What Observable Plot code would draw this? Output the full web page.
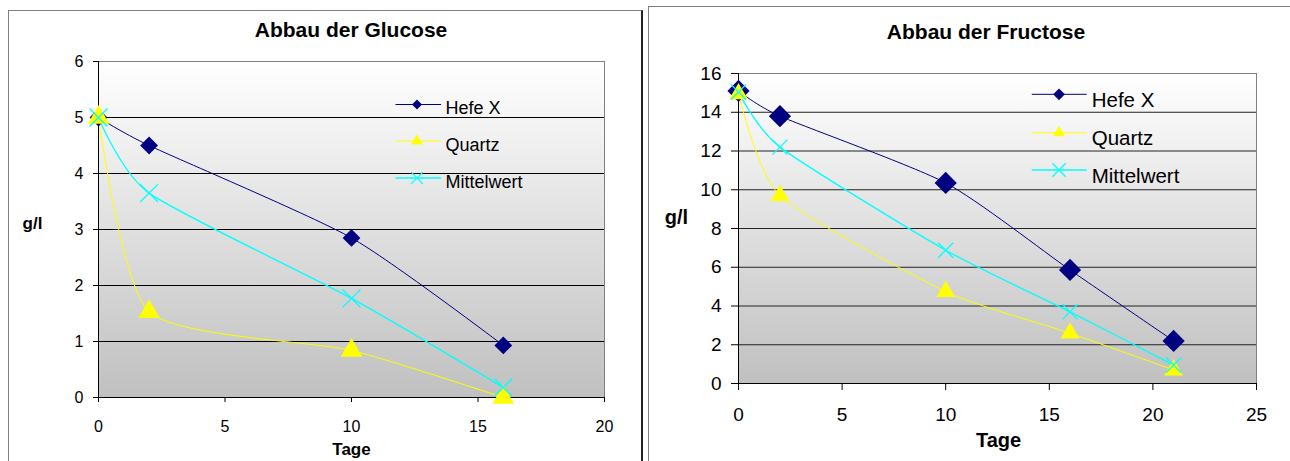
<!DOCTYPE html>
<html><head><meta charset="utf-8">
<script src="https://cdn.jsdelivr.net/npm/d3@7"></script>
<script src="https://cdn.jsdelivr.net/npm/@observablehq/plot@0.6"></script>
<style>
body{margin:0;width:1290px;height:461px;overflow:hidden;background:#fff;position:relative;font-family:"Liberation Sans",Arial,sans-serif;color:#000;}
.box{position:absolute;box-sizing:border-box;}
.t{position:absolute;transform:translate(-50%,-50%);font-weight:bold;white-space:nowrap;}
</style></head><body>
<div class="box" style="left:8px;top:10px;width:635px;height:470px;border-left:1px solid #808080;border-top:1px solid #808080;border-right:2px solid #222;"></div>
<div class="box" style="left:648px;top:6px;width:700px;height:470px;border:1px solid #808080;"></div>
<div class="t" style="left:351px;top:30px;font-size:21px">Abbau der Glucose</div>
<div class="t" style="left:986px;top:32px;font-size:21px">Abbau der Fructose</div>
<script>
// ---- data ----
const series = ["Hefe X", "Quartz", "Mittelwert"];
const seriesColors = ["#000080", "#ffff00", "#00ffff"];

const glucoseDays = [0, 2, 10, 16];
const glucoseHefe = [5.0, 4.5, 2.85, 0.93];
const glucoseQuartz = [5.0, 1.53, 0.84, 0.0];
const glucoseMittel = [5.0, 3.65, 1.77, 0.18];
const glucoseXTicks = [0, 5, 10, 15, 20];
const glucoseYTicks = [0, 1, 2, 3, 4, 5, 6];

const fructoseDays = [0, 2, 10, 16, 21];
const fructoseHefe = [15.1, 13.8, 10.35, 5.86, 2.2];
const fructoseQuartz = [14.95, 9.7, 4.75, 2.6, 0.7];
const fructoseMittel = [15.05, 12.2, 6.88, 3.7, 0.95];
const fructoseXTicks = [0, 5, 10, 15, 20, 25];
const fructoseYTicks = [0, 2, 4, 6, 8, 10, 12, 14, 16];

function rowsFor(days, lists) {
  const out = [];
  lists.forEach((vals, k) => days.forEach((d, i) => out.push({day: d, value: vals[i], series: series[k]})));
  return out;
}

function chart(o) {
  const rows = rowsFor(o.days, o.lists);
  const ymax = o.yTicks[o.yTicks.length - 1];
  const by = s => rows.filter(r => r.series === s);
  const svg = Plot.plot({
    width: o.width, height: o.height,
    marginLeft: o.ml, marginRight: o.mr, marginTop: o.mt, marginBottom: o.mb,
    x: {domain: [o.xTicks[0], o.xTicks[o.xTicks.length - 1]]},
    y: {domain: [0, ymax]},
    color: {domain: series, range: seriesColors},
    style: {fontFamily: '"Liberation Sans", Arial, sans-serif', background: "transparent", overflow: "visible", color: "#000"},
    marks: [
      Plot.frame({fill: `url(#${o.id}grad)`}),
      Plot.ruleY(o.yTicks.filter(v => v > 0 && v < ymax), {stroke: o.grid, strokeWidth: 1}),
      Plot.frame({stroke: "#808080"}),
      Plot.ruleY([0], {stroke: "#000"}),
      Plot.ruleX([0], {stroke: "#000"}),
      Plot.axisY({ticks: o.yTicks, tickSize: o.tick, tickPadding: o.ypad, label: null, tickFormat: d => String(d)}),
      Plot.axisX({ticks: o.xTicks, tickSize: o.tick, tickPadding: o.xpad, label: null, tickFormat: d => String(d)}),
      Plot.line(rows, {x: "day", y: "value", z: "series", stroke: "series", strokeWidth: d => d.series === "Mittelwert" ? 1.3 : 1, curve: "cardinal", tension: 0.35}),
      Plot.dot(by("Hefe X"), {x: "day", y: "value", symbol: "diamond2", fill: seriesColors[0], stroke: "none", r: o.rD}),
      Plot.dot(by("Quartz"), {x: "day", y: "value", symbol: "triangle", fill: seriesColors[1], stroke: "none", r: o.rT}),
      Plot.dot(by("Mittelwert"), {x: "day", y: "value", symbol: "times", fill: "none", stroke: seriesColors[2], strokeWidth: 1.3, r: o.rX}),
      Plot.text(["g/l"], {frameAnchor: "left", dx: o.glx, dy: o.gly, fontSize: o.lfs, fontWeight: "bold", textAnchor: "middle"}),
      Plot.text(["Tage"], {frameAnchor: "bottom", dx: o.tx, dy: o.ty, fontSize: o.lfs, fontWeight: "bold", textAnchor: "middle"})
    ]
  });
  const s = d3.select(svg);
  s.insert("defs", ":first-child").html(
    `<linearGradient id="${o.id}grad" x1="0" y1="0" x2="0" y2="1"><stop offset="0" stop-color="#ffffff"/><stop offset="1" stop-color="#c0c0c0"/></linearGradient>`);
  s.selectAll('g[aria-label*="tick label"] text').style("font-size", o.fs + "px");
  svg.style.position = "absolute";
  svg.style.left = o.left + "px";
  svg.style.top = o.top + "px";
  svg.style.maxWidth = "none";
  document.body.appendChild(svg);
}

chart({id: "g", days: glucoseDays, lists: [glucoseHefe, glucoseQuartz, glucoseMittel],
  xTicks: glucoseXTicks, yTicks: glucoseYTicks, left: 0, top: 50, width: 634, height: 410,
  ml: 98, mr: 30, mt: 11, mb: 63, grid: "#000", tick: 5, ypad: 10, xpad: 18, fs: 16, lfs: 17,
  rD: 8, rT: 8, rX: 8.2, glx: -66, gly: -6, tx: 0, ty: 57});

chart({id: "f", days: fructoseDays, lists: [fructoseHefe, fructoseQuartz, fructoseMittel],
  xTicks: fructoseXTicks, yTicks: fructoseYTicks, left: 645, top: 40, width: 645, height: 421,
  ml: 93, mr: 34, mt: 33, mb: 78, grid: "#222", tick: 7, ypad: 10, xpad: 17, fs: 19, lfs: 20,
  rD: 10, rT: 7, rX: 6.9, glx: -62, gly: -11, tx: 1, ty: 63});

// ---- legends ----
const leg = d3.select("body").append("svg").attr("width", 1290).attr("height", 461)
  .style("position", "absolute").style("left", 0).style("top", 0).style("pointer-events", "none");
const symTypes = [d3.symbolDiamond2, d3.symbolTriangle, d3.symbolTimes];
function legend(x0, x1, xm, xt, rows, fs, base, sizes) {
  series.forEach((s, k) => {
    const y = rows[k];
    leg.append("line").attr("x1", x0).attr("x2", x1).attr("y1", y).attr("y2", y)
      .attr("stroke", seriesColors[k]).attr("stroke-width", k === 2 ? 1.3 : 1);
    const p = leg.append("path").attr("d", d3.symbol(symTypes[k], sizes[k])()).attr("transform", `translate(${xm},${y})`);
    if (k === 2) p.attr("fill", "none").attr("stroke", seriesColors[k]).attr("stroke-width", 1.3);
    else p.attr("fill", seriesColors[k]);
    leg.append("text").attr("x", xt).attr("y", y + base).attr("font-size", fs)
      .attr("font-family", '"Liberation Sans", Arial, sans-serif').attr("fill", "#000").text(s);
  });
}
legend(395.5, 441, 417, 445.5, [104.5, 141, 178], 18, 9.5, [64, 60, 91]);
legend(1031.7, 1086.7, 1059, 1091.7, [94.3, 132.7, 170], 20.5, 12.5, [87, 64, 118]);
</script>
</body></html>
